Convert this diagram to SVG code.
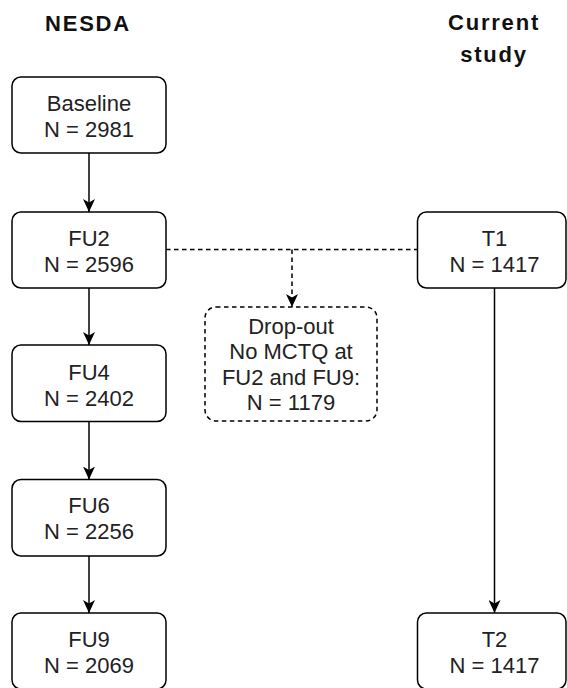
<svg xmlns="http://www.w3.org/2000/svg" width="567" height="688" viewBox="0 0 567 688">
<style>
.box{fill:#fff;stroke:#000;stroke-width:1.5}
.dbox{fill:#fff;stroke:#000;stroke-width:1.5;stroke-dasharray:4.5 3.5}
.t{font-family:"Liberation Sans",Arial,sans-serif;font-size:22px;fill:#222;text-anchor:middle}
.h{font-family:"Liberation Sans",Arial,sans-serif;font-size:22px;font-weight:bold;fill:#111;text-anchor:middle;letter-spacing:1.8px}
.c{fill:none;stroke:#000;stroke-width:1.5}
.cd{fill:none;stroke:#000;stroke-width:1.5;stroke-dasharray:4.5 3.5}
</style>
<defs>
<marker id="arr" viewBox="0 0 13 12" refX="13" refY="6" markerWidth="13" markerHeight="12" markerUnits="userSpaceOnUse" orient="auto">
<path d="M0,0 L13,6 L0,12 L3.5,6 Z" fill="#000"/>
</marker>
</defs>
<rect width="567" height="688" fill="#fff"/>
<g id="title-nesda"><text class="h" x="88" y="31">NESDA</text></g>
<g id="title-current"><text class="h" x="494" y="29.5">Current</text><text class="h" x="494" y="62">study</text></g>
<g id="connectors">
<line class="c" x1="89" y1="153" x2="89" y2="212" marker-end="url(#arr)"/>
<line class="c" x1="89" y1="288" x2="89" y2="345" marker-end="url(#arr)"/>
<line class="c" x1="89" y1="421.5" x2="89" y2="479.5" marker-end="url(#arr)"/>
<line class="c" x1="89" y1="556" x2="89" y2="613" marker-end="url(#arr)"/>
<line class="c" x1="494.5" y1="288" x2="494.5" y2="613" marker-end="url(#arr)"/>
<line class="cd" x1="166" y1="249.5" x2="417" y2="249.5"/>
<line class="cd" x1="292" y1="249.5" x2="292" y2="307" marker-end="url(#arr)"/>
</g>
<g id="baseline"><rect class="box" x="12" y="77" width="154" height="76" rx="9"/><text class="t" x="89" y="111">Baseline</text><text class="t" x="89" y="137">N = 2981</text></g>
<g id="fu2"><rect class="box" x="12" y="212" width="154" height="76" rx="9"/><text class="t" x="89" y="246">FU2</text><text class="t" x="89" y="272">N = 2596</text></g>
<g id="fu4"><rect class="box" x="12" y="345" width="154" height="76.5" rx="9"/><text class="t" x="89" y="379.5">FU4</text><text class="t" x="89" y="405.5">N = 2402</text></g>
<g id="fu6"><rect class="box" x="12" y="479.5" width="154" height="76.5" rx="9"/><text class="t" x="89" y="513">FU6</text><text class="t" x="89" y="539">N = 2256</text></g>
<g id="fu9"><rect class="box" x="12" y="613" width="154" height="76" rx="9"/><text class="t" x="89" y="647">FU9</text><text class="t" x="89" y="673">N = 2069</text></g>
<g id="t1"><rect class="box" x="417.5" y="212" width="148.5" height="76" rx="9"/><text class="t" x="494.5" y="245.5">T1</text><text class="t" x="494.5" y="272">N = 1417</text></g>
<g id="t2"><rect class="box" x="417.5" y="613" width="148.5" height="76" rx="9"/><text class="t" x="494.5" y="646.5">T2</text><text class="t" x="494.5" y="673">N = 1417</text></g>
<g id="dropout"><rect class="dbox" x="205" y="307" width="172" height="114" rx="11"/><text class="t" x="291" y="333.5">Drop-out</text><text class="t" x="291" y="359">No MCTQ at</text><text class="t" x="291" y="384.5">FU2 and FU9:</text><text class="t" x="291" y="410">N = 1179</text></g>
</svg>
